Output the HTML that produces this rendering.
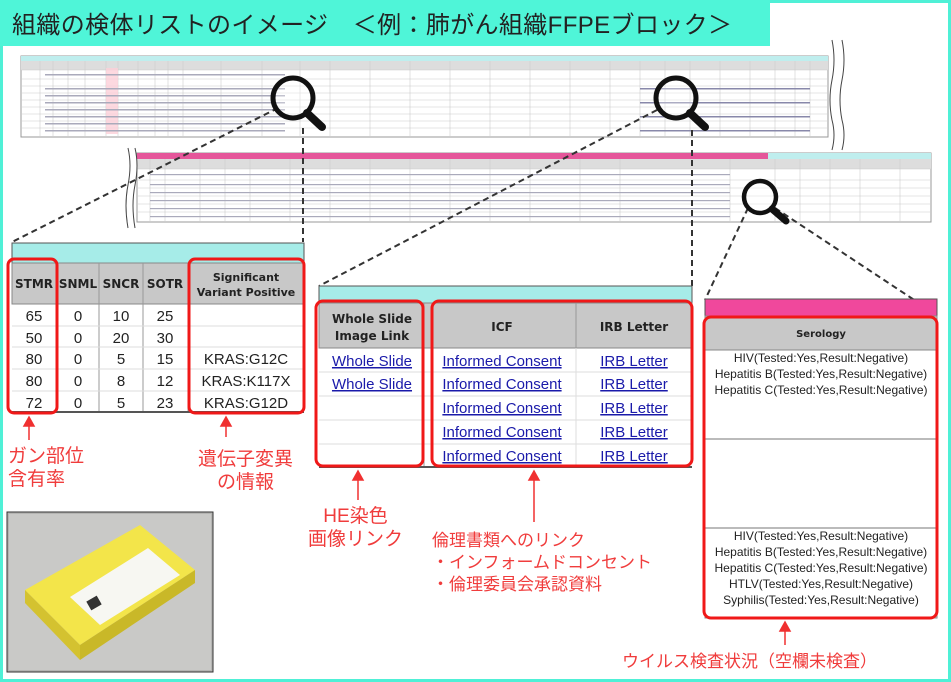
<!DOCTYPE html>
<html><head><meta charset="utf-8"><style>
html,body{margin:0;padding:0;background:#fff}
#c{position:relative;width:951px;height:682px;overflow:hidden;font-family:"Liberation Sans","Noto Sans CJK JP",sans-serif}
.r{color:#f03c3c;position:absolute;font-size:19px;line-height:23px;white-space:nowrap}
</style></head><body><div id="c">
<svg width="951" height="682" style="position:absolute;left:0;top:0" font-family="Liberation Sans, Noto Sans CJK JP, sans-serif">
<rect x="1.5" y="1.5" width="948" height="679" fill="#fff" stroke="#4ff0d6" stroke-width="3"/>
<rect x="0" y="0" width="770" height="46" fill="#4ff5d8"/>
<text x="12" y="33" font-size="24" fill="#222" textLength="720">組織の検体リストのイメージ　＜例：肺がん組織FFPEブロック＞</text>

<!-- top spreadsheet -->
<rect x="21" y="56" width="807" height="81" fill="#fff" stroke="#999"/>
<rect x="21" y="56" width="807" height="5" fill="#bfeeee"/>
<rect x="21" y="61" width="807" height="9" fill="#ddd"/>
<g stroke="#ccc" stroke-width="0.6">
<line x1="21" y1="70" x2="828" y2="70"/><line x1="21" y1="79" x2="828" y2="79"/><line x1="21" y1="86" x2="828" y2="86"/><line x1="21" y1="93" x2="828" y2="93"/><line x1="21" y1="100" x2="828" y2="100"/><line x1="21" y1="107" x2="828" y2="107"/><line x1="21" y1="114" x2="828" y2="114"/><line x1="21" y1="121" x2="828" y2="121"/><line x1="21" y1="128" x2="828" y2="128"/>
<line x1="40" y1="61" x2="40" y2="137"/><line x1="53" y1="61" x2="53" y2="137"/><line x1="68" y1="61" x2="68" y2="137"/><line x1="85" y1="61" x2="85" y2="137"/><line x1="106" y1="61" x2="106" y2="137"/><line x1="118" y1="61" x2="118" y2="137"/><line x1="138" y1="61" x2="138" y2="137"/><line x1="155" y1="61" x2="155" y2="137"/><line x1="168" y1="61" x2="168" y2="137"/><line x1="183" y1="61" x2="183" y2="137"/><line x1="221" y1="61" x2="221" y2="137"/><line x1="262" y1="61" x2="262" y2="137"/><line x1="300" y1="61" x2="300" y2="137"/><line x1="330" y1="61" x2="330" y2="137"/><line x1="370" y1="61" x2="370" y2="137"/><line x1="410" y1="61" x2="410" y2="137"/><line x1="450" y1="61" x2="450" y2="137"/><line x1="490" y1="61" x2="490" y2="137"/><line x1="530" y1="61" x2="530" y2="137"/><line x1="570" y1="61" x2="570" y2="137"/><line x1="610" y1="61" x2="610" y2="137"/><line x1="640" y1="61" x2="640" y2="137"/><line x1="665" y1="61" x2="665" y2="137"/><line x1="690" y1="61" x2="690" y2="137"/><line x1="720" y1="61" x2="720" y2="137"/><line x1="750" y1="61" x2="750" y2="137"/><line x1="775" y1="61" x2="775" y2="137"/><line x1="795" y1="61" x2="795" y2="137"/><line x1="810" y1="61" x2="810" y2="137"/>
</g>
<rect x="106" y="68" width="12" height="66" fill="#fcd0d8" opacity="0.8"/>
<g fill="#aab">
<rect x="45" y="74" width="240" height="1.5"/><rect x="45" y="88" width="240" height="1.5"/><rect x="45" y="95" width="240" height="1.5"/><rect x="45" y="102" width="240" height="1.5"/><rect x="45" y="109" width="240" height="1.5"/><rect x="45" y="116" width="240" height="1.5"/><rect x="45" y="123" width="240" height="1.5"/><rect x="45" y="130" width="240" height="1.5"/>
<rect x="640" y="88" width="170" height="1.5" fill="#88a"/><rect x="640" y="102" width="170" height="1.5" fill="#88a"/><rect x="640" y="116" width="170" height="1.5" fill="#88a"/><rect x="640" y="130" width="170" height="1.5" fill="#88a"/>
</g>
<path d="M832 40 Q836 60 832 80 Q828 100 832 120 Q836 135 832 150" fill="none" stroke="#444"/>
<path d="M842 40 Q846 60 842 80 Q838 100 842 120 Q846 135 842 150" fill="none" stroke="#444"/>

<!-- second spreadsheet -->
<rect x="137" y="153" width="794" height="69" fill="#fff" stroke="#999"/>
<rect x="137" y="153" width="631" height="6" fill="#e5569a"/>
<rect x="768" y="153" width="163" height="6" fill="#bfeeee"/>
<rect x="137" y="159" width="794" height="10" fill="#ddd"/>
<g stroke="#ccc" stroke-width="0.6">
<line x1="137" y1="169" x2="931" y2="169"/><line x1="137" y1="180" x2="931" y2="180"/><line x1="137" y1="188" x2="931" y2="188"/><line x1="137" y1="196" x2="931" y2="196"/><line x1="137" y1="204" x2="931" y2="204"/><line x1="137" y1="212" x2="931" y2="212"/>
<line x1="150" y1="159" x2="150" y2="222"/><line x1="165" y1="159" x2="165" y2="222"/><line x1="200" y1="159" x2="200" y2="222"/><line x1="225" y1="159" x2="225" y2="222"/><line x1="250" y1="159" x2="250" y2="222"/><line x1="290" y1="159" x2="290" y2="222"/><line x1="330" y1="159" x2="330" y2="222"/><line x1="370" y1="159" x2="370" y2="222"/><line x1="410" y1="159" x2="410" y2="222"/><line x1="450" y1="159" x2="450" y2="222"/><line x1="490" y1="159" x2="490" y2="222"/><line x1="530" y1="159" x2="530" y2="222"/><line x1="580" y1="159" x2="580" y2="222"/><line x1="620" y1="159" x2="620" y2="222"/><line x1="730" y1="159" x2="730" y2="222"/><line x1="775" y1="159" x2="775" y2="222"/><line x1="800" y1="159" x2="800" y2="222"/><line x1="830" y1="159" x2="830" y2="222"/><line x1="860" y1="159" x2="860" y2="222"/><line x1="900" y1="159" x2="900" y2="222"/>
</g>
<g fill="#aab"><rect x="150" y="174" width="580" height="1.2"/><rect x="150" y="184" width="580" height="1.2"/><rect x="150" y="192" width="580" height="1.2"/><rect x="150" y="200" width="580" height="1.2"/><rect x="150" y="208" width="580" height="1.2"/><rect x="150" y="216" width="580" height="1.2"/></g>
<path d="M128 148 Q132 165 128 185 Q124 205 128 228" fill="none" stroke="#444"/>
<path d="M135 148 Q139 165 135 185 Q131 205 135 228" fill="none" stroke="#444"/>

<!-- dashed connectors -->
<g stroke="#333" stroke-width="2" stroke-dasharray="6,4" fill="none">
<line x1="278" y1="108" x2="12" y2="242"/><line x1="303" y1="128" x2="303" y2="242"/>
<line x1="657" y1="110" x2="319" y2="286"/><line x1="692" y1="130" x2="692" y2="286"/>
<line x1="748" y1="208" x2="705" y2="300"/><line x1="775" y1="208" x2="937" y2="315"/>
</g>
<!-- magnifiers -->
<g fill="#fff" fill-opacity="0.3" stroke="#111">
<circle cx="293" cy="98" r="20" stroke-width="5"/><line x1="307" y1="113" x2="322" y2="127" stroke-width="8" stroke-linecap="round"/>
<circle cx="676" cy="98" r="20" stroke-width="5"/><line x1="690" y1="113" x2="705" y2="127" stroke-width="8" stroke-linecap="round"/>
<circle cx="760" cy="197" r="16" stroke-width="4.5"/><line x1="772" y1="209" x2="786" y2="221" stroke-width="7" stroke-linecap="round"/>
</g>

<!-- left table -->
<rect x="12" y="243" width="292" height="20" fill="#a6ece8" stroke="#555"/>
<rect x="12" y="263" width="292" height="41" fill="#c8c8c8" stroke="#888"/>
<g stroke="#999"><line x1="57" y1="263" x2="57" y2="412"/><line x1="99" y1="263" x2="99" y2="412"/><line x1="143" y1="263" x2="143" y2="412"/><line x1="188" y1="263" x2="188" y2="412"/></g>
<g stroke="#ddd"><line x1="12" y1="326" x2="304" y2="326"/><line x1="12" y1="347" x2="304" y2="347"/><line x1="12" y1="369" x2="304" y2="369"/><line x1="12" y1="391" x2="304" y2="391"/></g>
<line x1="12" y1="412" x2="304" y2="412" stroke="#555" stroke-width="2"/>
<g font-size="12" font-weight="bold" fill="#222" text-anchor="middle" font-family="DejaVu Sans, sans-serif">
<text x="34" y="288">STMR</text><text x="78" y="288">SNML</text><text x="121" y="288">SNCR</text><text x="165" y="288">SOTR</text>
<text x="246" y="281" font-size="11">Significant</text><text x="246" y="296" font-size="11">Variant Positive</text>
</g>
<g font-size="15" fill="#222" text-anchor="middle">
<text x="34" y="321">65</text><text x="78" y="321">0</text><text x="121" y="321">10</text><text x="165" y="321">25</text>
<text x="34" y="343">50</text><text x="78" y="343">0</text><text x="121" y="343">20</text><text x="165" y="343">30</text>
<text x="34" y="364">80</text><text x="78" y="364">0</text><text x="121" y="364">5</text><text x="165" y="364">15</text><text x="246" y="364">KRAS:G12C</text>
<text x="34" y="386">80</text><text x="78" y="386">0</text><text x="121" y="386">8</text><text x="165" y="386">12</text><text x="246" y="386">KRAS:K117X</text>
<text x="34" y="408">72</text><text x="78" y="408">0</text><text x="121" y="408">5</text><text x="165" y="408">23</text><text x="246" y="408">KRAS:G12D</text>
</g>
<g fill="none" stroke="#f01818" stroke-width="3">
<rect x="8" y="259" width="49" height="154" rx="6"/><rect x="189" y="259" width="115" height="154" rx="6"/>
</g>

<!-- middle table -->
<rect x="319" y="286" width="373" height="17" fill="#a6ece8" stroke="#555"/>
<rect x="319" y="303" width="373" height="45" fill="#c8c8c8" stroke="#888"/>
<g stroke="#999"><line x1="424" y1="303" x2="424" y2="467"/><line x1="576" y1="303" x2="576" y2="348"/></g>
<g stroke="#ddd"><line x1="319" y1="372" x2="692" y2="372"/><line x1="319" y1="396" x2="692" y2="396"/><line x1="319" y1="420" x2="692" y2="420"/><line x1="319" y1="444" x2="692" y2="444"/><line x1="576" y1="348" x2="576" y2="467"/></g>
<line x1="319" y1="467" x2="692" y2="467" stroke="#555" stroke-width="2"/>
<g font-size="12" font-weight="bold" fill="#222" text-anchor="middle" font-family="DejaVu Sans, sans-serif">
<text x="372" y="323">Whole Slide</text><text x="372" y="340">Image Link</text>
<text x="502" y="331">ICF</text><text x="634" y="331">IRB Letter</text>
</g>
<g font-size="15" fill="#1a1aaa" text-anchor="middle" text-decoration="underline">
<text x="372" y="366">Whole Slide</text><text x="372" y="389">Whole Slide</text>
<text x="502" y="366">Informed Consent</text><text x="634" y="366">IRB Letter</text>
<text x="502" y="389">Informed Consent</text><text x="634" y="389">IRB Letter</text>
<text x="502" y="413">Informed Consent</text><text x="634" y="413">IRB Letter</text>
<text x="502" y="437">Informed Consent</text><text x="634" y="437">IRB Letter</text>
<text x="502" y="461">Informed Consent</text><text x="634" y="461">IRB Letter</text>
</g>
<g fill="none" stroke="#f01818" stroke-width="3">
<rect x="316" y="301" width="107" height="165" rx="7"/><rect x="432" y="301" width="260" height="165" rx="7"/>
</g>

<!-- serology -->
<rect x="705" y="299" width="232" height="17" fill="#f0489c" stroke="#555"/>
<rect x="705" y="316" width="232" height="34" fill="#c8c8c8" stroke="#888"/>
<rect x="705" y="350" width="232" height="268" fill="#fff" stroke="#888"/>
<line x1="705" y1="439" x2="937" y2="439" stroke="#777"/><line x1="705" y1="528" x2="937" y2="528" stroke="#777"/>
<text x="821" y="337" font-size="10" font-weight="bold" text-anchor="middle" fill="#222" font-family="DejaVu Sans, sans-serif">Serology</text>
<g font-size="12" fill="#222" text-anchor="middle">
<text x="821" y="362">HIV(Tested:Yes,Result:Negative)</text>
<text x="821" y="378">Hepatitis B(Tested:Yes,Result:Negative)</text>
<text x="821" y="394">Hepatitis C(Tested:Yes,Result:Negative)</text>
<text x="821" y="540">HIV(Tested:Yes,Result:Negative)</text>
<text x="821" y="556">Hepatitis B(Tested:Yes,Result:Negative)</text>
<text x="821" y="572">Hepatitis C(Tested:Yes,Result:Negative)</text>
<text x="821" y="588">HTLV(Tested:Yes,Result:Negative)</text>
<text x="821" y="604">Syphilis(Tested:Yes,Result:Negative)</text>
</g>
<rect x="704" y="317" width="233" height="301" rx="7" fill="none" stroke="#f01818" stroke-width="3"/>

<!-- arrows -->
<g stroke="#f03030" stroke-width="1.5" fill="#f03030">
<line x1="29" y1="424" x2="29" y2="440"/><polygon points="24,426 34,426 29,417"/>
<line x1="226" y1="424" x2="226" y2="437"/><polygon points="221,426 231,426 226,417"/>
<line x1="358" y1="478" x2="358" y2="500"/><polygon points="353,480 363,480 358,471"/>
<line x1="534" y1="478" x2="534" y2="522"/><polygon points="529,480 539,480 534,471"/>
<line x1="785" y1="630" x2="785" y2="645"/><polygon points="780,631 790,631 785,622"/>
</g>

<!-- photo -->
<rect x="7" y="512" width="206" height="160" fill="#b5b5b3" stroke="#333"/>
<rect x="9" y="514" width="202" height="156" fill="#c9c9c7"/>
<polygon points="25,590 140,525 195,570 80,645" fill="#f3e54a"/>
<polygon points="25,590 80,645 80,660 25,603" fill="#d4c230"/>
<polygon points="80,645 195,570 195,583 80,660" fill="#c9b828"/>
<polygon points="70,597 148,548 180,575 100,625" fill="#f7f7f2"/>
<rect x="88" y="598" width="12" height="10" fill="#333" transform="rotate(-30 94 603)"/>
</svg>

<div class="r" style="left:8px;top:445px">ガン部位<br>含有率</div>
<div class="r" style="left:198px;top:448px;text-align:center">遺伝子変異<br>の情報</div>
<div class="r" style="left:308px;top:505px;text-align:center">HE染色<br>画像リンク</div>
<div class="r" style="left:432px;top:530px;font-size:17px;line-height:22px">倫理書類へのリンク<br>・インフォームドコンセント<br>・倫理委員会承認資料</div>
<div class="r" style="left:622px;top:650px;font-size:17px">ウイルス検査状況（空欄未検査）</div>
</div></body></html>
